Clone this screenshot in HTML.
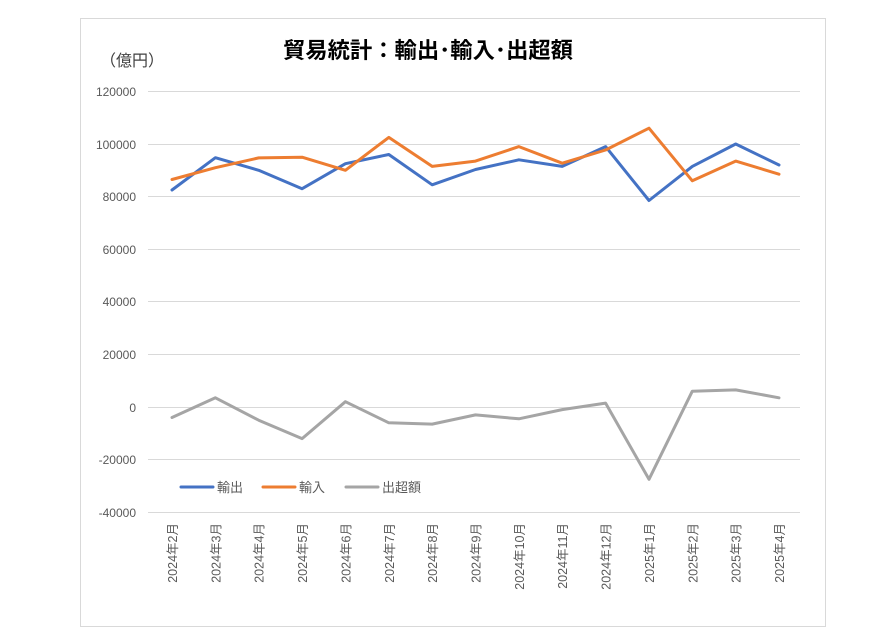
<!DOCTYPE html>
<html><head><meta charset="utf-8"><style>
body{margin:0;background:#fff;width:886px;height:644px;overflow:hidden}
svg{display:block}
text{font-family:"Liberation Sans","Noto Sans CJK JP",sans-serif}
</style></head><body>
<svg width="886" height="644" xmlns="http://www.w3.org/2000/svg">
<rect x="80.5" y="18.5" width="745" height="608" fill="#fff" stroke="#d9d9d9"/>
<text x="428" y="58" text-anchor="middle" font-size="22" font-weight="bold" fill="#000" textLength="290" lengthAdjust="spacingAndGlyphs">貿易統計：輸出･輸入･出超額</text>
<text x="100" y="66" font-size="16" fill="#404040">（億円）</text>
<g stroke="#d9d9d9" stroke-width="1">
<line x1="148" x2="800" y1="91.5" y2="91.5"/><line x1="148" x2="800" y1="144.5" y2="144.5"/>
<line x1="148" x2="800" y1="196.5" y2="196.5"/><line x1="148" x2="800" y1="249.5" y2="249.5"/>
<line x1="148" x2="800" y1="301.5" y2="301.5"/><line x1="148" x2="800" y1="354.5" y2="354.5"/>
<line x1="148" x2="800" y1="407.5" y2="407.5"/><line x1="148" x2="800" y1="459.5" y2="459.5"/>
<line x1="148" x2="800" y1="512.5" y2="512.5"/>
</g>
<g font-size="12" fill="#595959" text-anchor="end">
<text x="136" y="96">120000</text><text x="136" y="149">100000</text><text x="136" y="201">80000</text>
<text x="136" y="254">60000</text><text x="136" y="306">40000</text><text x="136" y="359">20000</text>
<text x="136" y="412">0</text><text x="136" y="464">-20000</text><text x="136" y="517">-40000</text>
</g>
<g fill="none" stroke-width="3" stroke-linejoin="round" stroke-linecap="round">
<polyline stroke="#4472c4" points="172,190 215.4,157.7 258.7,170.3 302.1,188.7 345.4,163.7 388.8,154.5 432.2,184.8 475.5,169.5 518.9,159.8 562.2,166.4 605.6,146.6 649,200.5 692.3,166.4 735.7,144 779,165"/>
<polyline stroke="#ed7d31" points="172,179.5 215.4,167.7 258.7,157.9 302.1,157.2 345.4,170.3 388.8,137.4 432.2,166.4 475.5,161.1 518.9,146.6 562.2,163.2 605.6,150 649,128.2 692.3,180.8 735.7,161.1 779,174.2"/>
<polyline stroke="#a5a5a5" points="172,417.5 215.4,397.8 258.7,420.2 302.1,438.6 345.4,401.7 388.8,422.8 432.2,424.1 475.5,414.9 518.9,418.8 562.2,409.6 605.6,403.1 649,479.3 692.3,391.2 735.7,389.9 779,397.8"/>
</g>
<g stroke-width="3" stroke-linecap="round">
<line x1="181" x2="213" y1="487" y2="487" stroke="#4472c4"/>
<line x1="263" x2="295" y1="487" y2="487" stroke="#ed7d31"/>
<line x1="346" x2="378" y1="487" y2="487" stroke="#a5a5a5"/>
</g>
<g font-size="13" fill="#595959">
<text x="217" y="492">輸出</text><text x="299" y="492">輸入</text><text x="382" y="492">出超額</text>
</g>
<g font-size="12.5" fill="#595959" text-anchor="end">
<text transform="translate(177,523) rotate(-90)">2024年2月</text>
<text transform="translate(220.4,523) rotate(-90)">2024年3月</text>
<text transform="translate(263.7,523) rotate(-90)">2024年4月</text>
<text transform="translate(307.1,523) rotate(-90)">2024年5月</text>
<text transform="translate(350.4,523) rotate(-90)">2024年6月</text>
<text transform="translate(393.8,523) rotate(-90)">2024年7月</text>
<text transform="translate(437.2,523) rotate(-90)">2024年8月</text>
<text transform="translate(480.5,523) rotate(-90)">2024年9月</text>
<text transform="translate(523.9,523) rotate(-90)">2024年10月</text>
<text transform="translate(567.2,523) rotate(-90)">2024年11月</text>
<text transform="translate(610.6,523) rotate(-90)">2024年12月</text>
<text transform="translate(654,523) rotate(-90)">2025年1月</text>
<text transform="translate(697.3,523) rotate(-90)">2025年2月</text>
<text transform="translate(740.7,523) rotate(-90)">2025年3月</text>
<text transform="translate(784,523) rotate(-90)">2025年4月</text>
</g>
</svg>
</body></html>
